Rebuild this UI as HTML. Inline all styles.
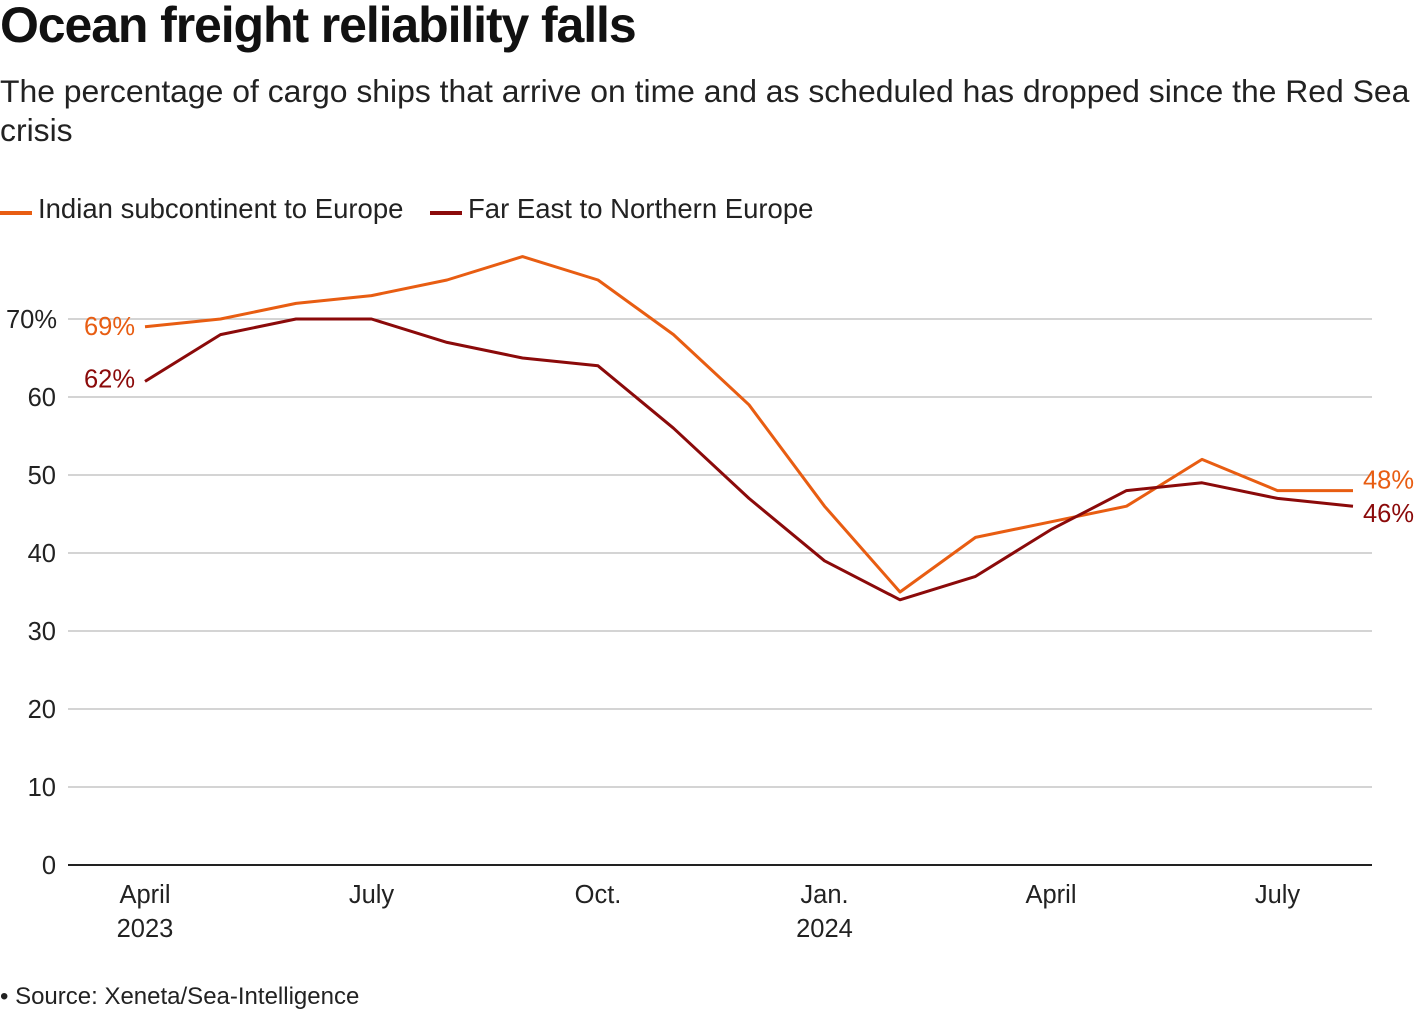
<!DOCTYPE html>
<html><head><meta charset="utf-8"><style>
body{margin:0;background:#fff;width:1420px;height:1014px;overflow:hidden;font-family:"Liberation Sans",Arial,sans-serif;color:#111}
#title{position:absolute;left:0;top:-4px;font-size:50px;font-weight:bold;letter-spacing:-1.1px;margin:0}
#sub{position:absolute;left:0;top:72px;font-size:31.9px;line-height:39px;color:#222;width:1420px}
#src{position:absolute;left:0;top:983px;font-size:24px;color:#222}
svg{position:absolute;left:0;top:0}
</style></head><body>
<h1 id="title">Ocean freight reliability falls</h1>
<div id="sub">The percentage of cargo ships that arrive on time and as scheduled has dropped since the Red Sea crisis</div>
<div id="src">• Source: Xeneta/Sea-Intelligence</div>
<svg id="chart" width="1420" height="1014"></svg>
<script>
const months=["Apr23","May23","Jun23","Jul23","Aug23","Sep23","Oct23","Nov23","Dec23","Jan24","Feb24","Mar24","Apr24","May24","Jun24","Jul24","Aug24"];
const indian=[69,70,72,73,75,78,75,68,59,46,35,42,44,46,52,48,48];
const farEast=[62,68,70,70,67,65,64,56,47,39,34,37,43,48,49,47,46];
const yTicks=[0,10,20,30,40,50,60,70];
const xTickIdx=[0,3,6,9,12,15];
const xTickLabels=[["April","2023"],["July"],["Oct."],["Jan.","2024"],["April"],["July"]];
const NS="http://www.w3.org/2000/svg",svg=document.getElementById('chart');
const x=i=>145+i*(1353-145)/(months.length-1);
const y=v=>865-v*7.8;
function mk(t,a,p){const e=document.createElementNS(NS,t);for(const k in a)e.setAttribute(k,a[k]);(p||svg).appendChild(e);return e;}
yTicks.forEach(v=>{
 const l=mk('line',{x1:68,x2:1372,y1:y(v),y2:y(v),stroke:v===0?'#222':'#bbb','stroke-width':v===0?2:1.3});
 
 
 const t=mk('text',{x:56,y:y(v)+9,'text-anchor':'end','font-size':25.5,fill:'#222'});
 t.textContent=v===70?'70%':v;
 
 
 if(v===70)t.setAttribute('x',57);
});
xTickIdx.forEach((i,k)=>{
 xTickLabels[k].forEach((s,j)=>{
  const t=mk('text',{x:x(i),y:903+j*34,'text-anchor':'middle','font-size':25.5,fill:'#222'});
  t.textContent=s;
  
  
 });
});
function series(d,c,name){
 const p=mk('polyline',{points:d.map((v,i)=>x(i)+','+y(v)).join(' '),fill:'none',stroke:c,'stroke-width':3,'stroke-linejoin':'round'});
 
 
}
series(indian,'#e85d12','line-indian-subcontinent');
series(farEast,'#8b0a0a','line-far-east');
function lab(txt,xx,yy,c,anchor,name){const t=mk('text',{x:xx,y:yy,'text-anchor':anchor,'font-size':25.5,fill:c});t.textContent=txt;
 
 }
lab(indian[0]+'%',x(0)-10,y(indian[0])+8,'#e85d12','end','label-indian-start');
lab(farEast[0]+'%',x(0)-10,y(farEast[0])+6,'#8b0a0a','end','label-fareast-start');
lab(indian[16]+'%',x(16)+10,y(indian[16])-2,'#e85d12','start','label-indian-end');
lab(farEast[16]+'%',x(16)+10,y(farEast[16])+16,'#8b0a0a','start','label-fareast-end');
const lg=[['Indian subcontinent to Europe','#e85d12',0],['Far East to Northern Europe','#8b0a0a',430]];
lg.forEach(([s,c,o])=>{
 const g=mk('g',{});
 
 
 mk('line',{x1:o,x2:o+32,y1:213,y2:213,stroke:c,'stroke-width':4},g);
 const t=mk('text',{x:o+38,y:218,'font-size':27.5,fill:'#222'},g);t.textContent=s;
});
</script>
</body></html>
